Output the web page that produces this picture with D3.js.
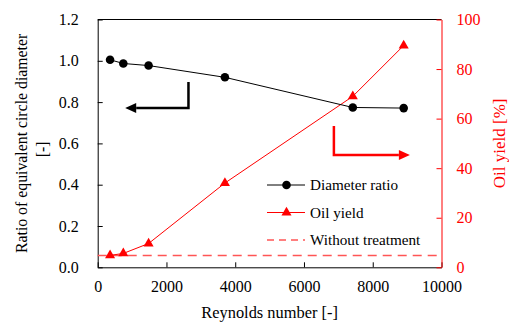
<!DOCTYPE html>
<html><head><meta charset="utf-8">
<script src="https://cdn.jsdelivr.net/npm/d3@7"></script>
<style>
body{margin:0;background:#fff;}
svg text{font-family:"Liberation Serif","Times New Roman","Liberation Sans",Arial,sans-serif;}
</style></head>
<body><svg id="c" width="509" height="324"></svg>
<script>
const reynolds = [360, 745, 1480, 3700, 7420, 8900];
const diameterRatio = [1.005, 0.987, 0.977, 0.92, 0.774, 0.771];
const oilYield = [4.8, 5.6, 9.6, 34, 69, 89.5];
const withoutTreatment = 4.8;
const xTicks = [0, 2000, 4000, 6000, 8000, 10000];
const yLeftTicks = [0, 0.2, 0.4, 0.6, 0.8, 1.0, 1.2];
const yRightTicks = [0, 20, 40, 60, 80, 100];
const legendLabels = ["Diameter ratio", "Oil yield", "Without treatment"];
// annotation arrows, in data units
const leftArrow = [[2640, 0.897], [2640, 0.771], [800, 0.771]];
const rightArrow = [[6870, 57], [6870, 45.3], [9080, 45.3]];

const svg = d3.select("#c");
const L = 97.7, R = 441.5, T = 19.5, B = 267.3;
const x = d3.scaleLinear().domain([0, 10000]).range([L, R]);
const yL = d3.scaleLinear().domain([0, 1.2]).range([B, T]);
const yR = d3.scaleLinear().domain([0, 100]).range([B, T]);
const red = "#ff0000";

svg.append("line").attr("x1", L).attr("x2", R).attr("y1", T).attr("y2", T).attr("stroke", "#000");

const gx = svg.append("g").attr("transform", `translate(0,${B})`)
  .call(d3.axisBottom(x).tickValues(xTicks).tickSizeInner(-5).tickSizeOuter(0).tickPadding(10).tickFormat(d3.format("d")));
const gl = svg.append("g").attr("transform", `translate(${L},0)`)
  .call(d3.axisLeft(yL).tickValues(yLeftTicks).tickSizeInner(-5).tickSizeOuter(0).tickPadding(19).tickFormat(d3.format(".1f")));
const gr = svg.append("g").attr("transform", `translate(${R},0)`)
  .call(d3.axisRight(yR).tickValues(yRightTicks).tickSizeInner(-5).tickSizeOuter(0).tickPadding(15).tickFormat(d3.format("d")));
[gx, gl, gr].forEach(g => { g.attr("font-family", null); g.selectAll("text").attr("font-size", 16).attr("fill", "#000"); });
gr.selectAll("text").attr("fill", red);
gr.selectAll("line, path").attr("stroke", red);
gx.selectAll("text").attr("dy", "0.9em");

svg.append("text").attr("x", (L + R) / 2).attr("y", 318).attr("text-anchor", "middle").attr("font-size", 16.4).text("Reynolds number [-]");
svg.append("text").attr("transform", `translate(27,${(T + B) / 2}) rotate(-90)`).attr("text-anchor", "middle").attr("font-size", 15.8).text("Ratio of equivalent circle diameter");
svg.append("text").attr("transform", `translate(48,${(T + B) / 2 + 6}) rotate(-90)`).attr("text-anchor", "middle").attr("font-size", 15.8).text("[-]");
svg.append("text").attr("transform", `translate(505,${(T + B) / 2}) rotate(-90)`).attr("text-anchor", "middle").attr("font-size", 17).attr("fill", red).text("Oil yield [%]");

svg.append("line").attr("x1", L).attr("x2", R).attr("y1", yR(withoutTreatment)).attr("y2", yR(withoutTreatment))
  .attr("stroke", "#ff5555").attr("stroke-width", 1.5).attr("stroke-dasharray", "9,6");

const tri = d3.symbol().type(d3.symbolTriangle).size(44);
svg.append("path").datum(reynolds.map((r, i) => [r, oilYield[i]]))
  .attr("d", d3.line().x(d => x(d[0])).y(d => yR(d[1]))).attr("fill", "none").attr("stroke", red).attr("stroke-width", 1);
svg.selectAll(".tri").data(reynolds.map((r, i) => [r, oilYield[i]])).enter().append("path")
  .attr("d", tri).attr("transform", d => `translate(${x(d[0])},${yR(d[1])})`).attr("fill", red);

svg.append("path").datum(reynolds.map((r, i) => [r, diameterRatio[i]]))
  .attr("d", d3.line().x(d => x(d[0])).y(d => yL(d[1]))).attr("fill", "none").attr("stroke", "#000").attr("stroke-width", 1);
svg.selectAll(".dot").data(reynolds.map((r, i) => [r, diameterRatio[i]])).enter().append("circle")
  .attr("cx", d => x(d[0])).attr("cy", d => yL(d[1])).attr("r", 4.3).attr("fill", "#000");

function arrow(pts, ys, color) {
  const p = pts.map(d => [x(d[0]), ys(d[1])]);
  const last = p[p.length - 1], prev = p[p.length - 2];
  const dir = Math.sign(last[0] - prev[0]);
  const headLen = 11, hw = 5;
  const baseX = last[0] - dir * headLen;
  const body = p.slice(0, -1).concat([[baseX, last[1]]]);
  svg.append("path").attr("d", d3.line()(body)).attr("fill", "none").attr("stroke", color).attr("stroke-width", 2.5);
  svg.append("path").attr("d", d3.line()([[last[0], last[1]], [baseX, last[1] - hw], [baseX, last[1] + hw]]) + "Z").attr("fill", color);
}
arrow(leftArrow, yL, "#000");
arrow(rightArrow, yR, red);

const lg = svg.append("g");
const ly = [185, 212.5, 240];
const lx1 = 267, lx2 = 305, lm = 286.5;
lg.append("line").attr("x1", lx1).attr("x2", lx2).attr("y1", ly[0]).attr("y2", ly[0]).attr("stroke", "#000");
lg.append("circle").attr("cx", lm).attr("cy", ly[0]).attr("r", 4.3).attr("fill", "#000");
lg.append("line").attr("x1", lx1).attr("x2", lx2).attr("y1", ly[1]).attr("y2", ly[1]).attr("stroke", red);
lg.append("path").attr("d", tri).attr("transform", `translate(${lm},${ly[1]})`).attr("fill", red);
lg.append("line").attr("x1", lx1).attr("x2", lx2).attr("y1", ly[2]).attr("y2", ly[2]).attr("stroke", "#ff5555").attr("stroke-width", 1.5).attr("stroke-dasharray", "7,5");
legendLabels.forEach((t, i) => lg.append("text").attr("x", 310).attr("y", ly[i]).attr("dy", "0.33em").attr("font-size", 15.2).text(t));
</script></body></html>
